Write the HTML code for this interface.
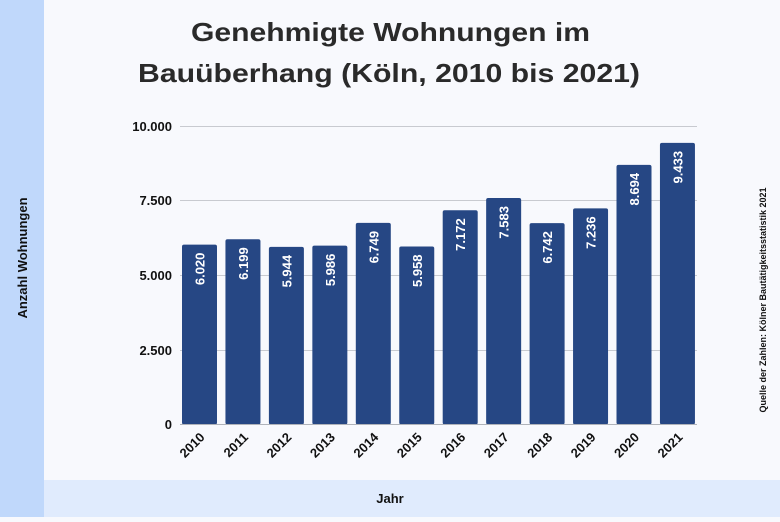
<!DOCTYPE html><html><head><meta charset="utf-8"><style>
body{margin:0;width:780px;height:517px;overflow:hidden;background:#f8f9fd;font-family:"Liberation Sans",sans-serif}
</style></head><body>
<svg width="780" height="517" xmlns="http://www.w3.org/2000/svg" font-family="Liberation Sans, sans-serif">
<rect width="780" height="517" fill="#f8f9fd"/>
<rect x="0" y="0" width="44" height="517" fill="#c0d8fb"/>
<rect x="44" y="480" width="736" height="37" fill="#e0ebfd"/>
<text x="191" y="41" textLength="399" lengthAdjust="spacingAndGlyphs" font-size="26" font-weight="bold" fill="#2a2a2a">Genehmigte Wohnungen im</text>
<text x="138" y="82" textLength="502" lengthAdjust="spacingAndGlyphs" font-size="26" font-weight="bold" fill="#2a2a2a">Bauüberhang (Köln, 2010 bis 2021)</text>
<text transform="translate(27,258) rotate(-90)" text-anchor="middle" font-size="13" font-weight="bold" fill="#111">Anzahl Wohnungen</text>
<text x="390" y="503" text-anchor="middle" font-size="13" font-weight="bold" fill="#111">Jahr</text>
<text transform="translate(766,300) rotate(-90)" text-anchor="middle" font-size="9" font-weight="bold" fill="#111">Quelle der Zahlen: Kölner Bautätigkeitsstatistik 2021</text>
<g stroke="#c8cad0" stroke-width="1">
<line x1="180" x2="697" y1="126.5" y2="126.5"/><line x1="180" x2="697" y1="200.5" y2="200.5"/><line x1="180" x2="697" y1="275.5" y2="275.5"/><line x1="180" x2="697" y1="350.5" y2="350.5"/>
</g>
<g font-size="13" font-weight="bold" fill="#111" text-anchor="end">
<text x="172" y="131">10.000</text><text x="172" y="205">7.500</text><text x="172" y="280">5.000</text><text x="172" y="355">2.500</text><text x="172" y="429">0</text>
</g>
<g fill="#264784">
<rect x="182" y="244.6" width="35" height="179.9" rx="2"/>
<rect x="225.45" y="239.27" width="35" height="185.23" rx="2"/>
<rect x="268.9" y="246.87" width="35" height="177.63" rx="2"/>
<rect x="312.35" y="245.62" width="35" height="178.88" rx="2"/>
<rect x="355.8" y="222.88" width="35" height="201.62" rx="2"/>
<rect x="399.25" y="246.45" width="35" height="178.05" rx="2"/>
<rect x="442.7" y="210.27" width="35" height="214.23" rx="2"/>
<rect x="486.15" y="198.03" width="35" height="226.47" rx="2"/>
<rect x="529.6" y="223.09" width="35" height="201.41" rx="2"/>
<rect x="573.05" y="208.37" width="35" height="216.13" rx="2"/>
<rect x="616.5" y="164.92" width="35" height="259.58" rx="2"/>
<rect x="659.95" y="142.9" width="35" height="281.6" rx="2"/>
</g>
<g font-size="13" font-weight="bold" fill="#fff" text-anchor="end">
<text transform="translate(204.5,252.6) rotate(-90)">6.020</text>
<text transform="translate(247.95,247.27) rotate(-90)">6.199</text>
<text transform="translate(291.4,254.87) rotate(-90)">5.944</text>
<text transform="translate(334.85,253.62) rotate(-90)">5.986</text>
<text transform="translate(378.3,230.88) rotate(-90)">6.749</text>
<text transform="translate(421.75,254.45) rotate(-90)">5.958</text>
<text transform="translate(465.2,218.27) rotate(-90)">7.172</text>
<text transform="translate(508.65,206.03) rotate(-90)">7.583</text>
<text transform="translate(552.1,231.09) rotate(-90)">6.742</text>
<text transform="translate(595.55,216.37) rotate(-90)">7.236</text>
<text transform="translate(639,172.92) rotate(-90)">8.694</text>
<text transform="translate(682.45,150.9) rotate(-90)">9.433</text>
</g>
<line x1="180" x2="697" y1="424.5" y2="424.5" stroke="#b0b3ba"/>
<g font-size="13" font-weight="bold" fill="#111" text-anchor="end">
<text transform="translate(205.5,438) rotate(-45)">2010</text>
<text transform="translate(248.95,438) rotate(-45)">2011</text>
<text transform="translate(292.4,438) rotate(-45)">2012</text>
<text transform="translate(335.85,438) rotate(-45)">2013</text>
<text transform="translate(379.3,438) rotate(-45)">2014</text>
<text transform="translate(422.75,438) rotate(-45)">2015</text>
<text transform="translate(466.2,438) rotate(-45)">2016</text>
<text transform="translate(509.65,438) rotate(-45)">2017</text>
<text transform="translate(553.1,438) rotate(-45)">2018</text>
<text transform="translate(596.55,438) rotate(-45)">2019</text>
<text transform="translate(640,438) rotate(-45)">2020</text>
<text transform="translate(683.45,438) rotate(-45)">2021</text>
</g>
</svg>
</body></html>
